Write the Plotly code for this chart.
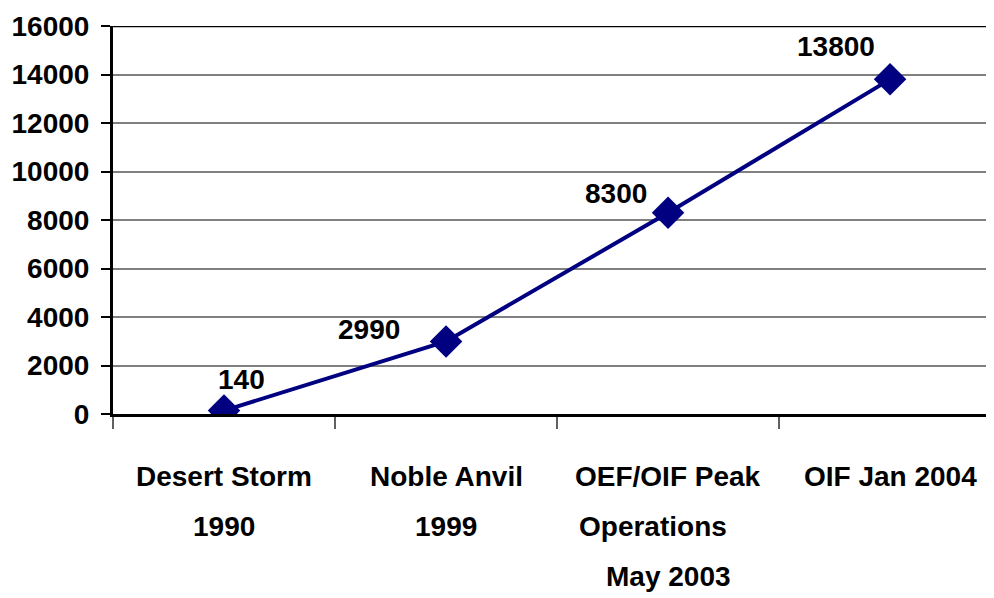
import plotly.graph_objects as go

categories = ["Desert Storm 1990", "Noble Anvil 1999", "OEF/OIF Peak Operations May 2003", "OIF Jan 2004"]
label_lines = [["Desert Storm", "1990"], ["Noble Anvil", "1999"],
               ["OEF/OIF Peak", "Operations", "May 2003"], ["OIF Jan 2004"]]
values = [140, 2990, 8300, 13800]
value_labels = ["140", "2990", "8300", "13800"]
y_ticks = [0, 2000, 4000, 6000, 8000, 10000, 12000, 14000, 16000]

FONT = "Liberation Sans Narrow, Arial Narrow, Liberation Sans, Arial, sans-serif"
FS = 28
NAVY = "#000080"

fig = go.Figure()
fig.add_trace(go.Scatter(
    x=categories, y=values, mode="lines+markers",
    line=dict(color=NAVY, width=4),
    marker=dict(symbol="diamond", size=25, color=NAVY),
    hoverinfo="skip", showlegend=False,
))

# data labels offsets (pixels)
label_offsets = [(17, 31), (-77, 12), (-52, 19), (-54, 33)]
for cat, v, t, (dx, dy) in zip(categories, values, value_labels, label_offsets):
    fig.add_annotation(x=cat, y=v, xref="x", yref="y", text=f"<b>{t}</b>",
                       showarrow=False, xshift=dx, yshift=dy,
                       font=dict(family=FONT, size=FS, color="black"))

# category labels
line_xshift = {(2, 1): -15}
for i, (cat, lines) in enumerate(zip(categories, label_lines)):
    for j, ln in enumerate(lines):
        fig.add_annotation(x=cat, y=0, xref="x", yref="paper", text=f"<b>{ln}</b>",
                           showarrow=False, yanchor="middle",
                           yshift=-62 - 50 * j, xshift=line_xshift.get((i, j), 0),
                           font=dict(family=FONT, size=FS, color="black"))

# top border line
fig.add_shape(type="line", xref="paper", yref="y", x0=0, x1=1, y0=16000, y1=16000,
              line=dict(color="black", width=2.5))

fig.update_layout(
    width=986, height=590,
    margin=dict(l=105, r=0, t=18, b=184),
    paper_bgcolor="white", plot_bgcolor="white",
    font=dict(family=FONT, size=FS, color="black"),
)
fig.update_xaxes(
    type="category", range=[-0.5, 3.468], automargin=False,
    showticklabels=False, showgrid=False,
    showline=True, linecolor="black", linewidth=3,
    ticks="outside", tickson="boundaries", ticklen=12, tickcolor="#606060", tickwidth=1.5,
    zeroline=False,
)
fig.update_yaxes(
    range=[0, 16000], tickvals=y_ticks, ticktext=[f"<b>{v}</b>" for v in y_ticks],
    automargin=False,
    showgrid=True, gridcolor="#808080", gridwidth=1.5,
    showline=True, linecolor="black", linewidth=3,
    ticks="outside", ticklen=9, tickcolor="black", tickwidth=1.5,
    ticklabelstandoff=6, zeroline=False,
    tickfont=dict(family=FONT, size=FS, color="black"),
)

fig.write_html("out.html")
